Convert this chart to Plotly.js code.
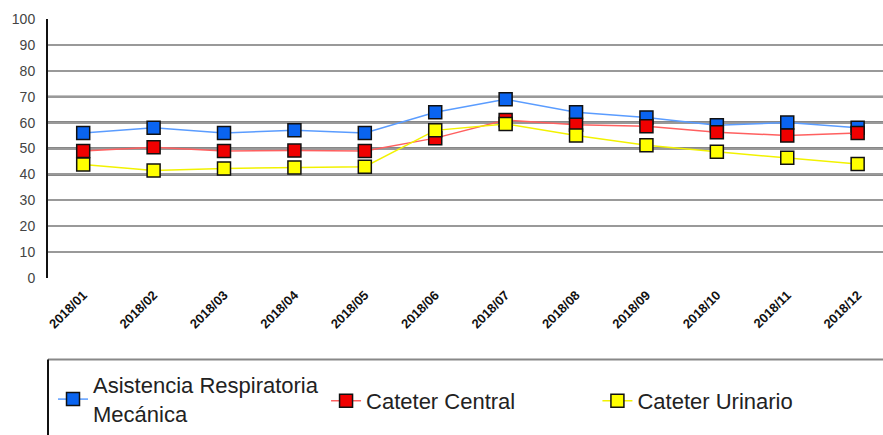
<!DOCTYPE html>
<html>
<head>
<meta charset="utf-8">
<script src="https://cdn.plot.ly/plotly-3.0.1.min.js"></script>
<style>html,body{margin:0;padding:0;background:#fff;}#chart{width:883px;height:435px;}</style>
</head>
<body>
<div id="chart"></div>
<script>
const months = ["2018/01","2018/02","2018/03","2018/04","2018/05","2018/06","2018/07","2018/08","2018/09","2018/10","2018/11","2018/12"];
const respiratoria = [56, 58, 56, 57, 56, 64, 69, 64, 62, 59, 60, 58];
const central = [49, 50.5, 49, 49.2, 49, 54, 61, 59.2, 58.6, 56.3, 55, 56];
const urinario = [43.8, 41.5, 42.3, 42.7, 43, 57, 59.5, 55, 51.3, 48.7, 46.4, 44];
const seriesNames = ["Asistencia Respiratoria<br>Mecánica", "Cateter Central", "Cateter Urinario"];
const yTicks = [0,10,20,30,40,50,60,70,80,90,100];
const blackLines = [40,50,60,70];

function tr(y, name, fill, line, leg) {
  return {
    x: months, y: y, name: name, type: 'scatter', mode: 'lines+markers', legend: leg,
    line: {color: line, width: 1.5},
    marker: {symbol: 'square', size: 13, color: fill, line: {color: '#111', width: 1.5}}
  };
}
const data = [
  tr(respiratoria, seriesNames[0], '#0a64f0', '#5a9cff', 'legend'),
  tr(central, seriesNames[1], '#f00000', '#ff6060', 'legend2'),
  tr(urinario, seriesNames[2], '#ffff00', '#f2f200', 'legend3')
];

const shapes = blackLines.map(v => ({
  type: 'line', xref: 'paper', yref: 'y', x0: 0, x1: 1, y0: v, y1: v,
  line: {color: '#111', width: 2}, layer: 'below'
}));
shapes.push({type:'line', xref:'paper', yref:'paper', x0:0, x1:1.2, y0:-0.315, y1:-0.315, line:{color:'#888', width:2}});
shapes.push({type:'line', xref:'paper', yref:'paper', x0:0, x1:0, y0:-0.315, y1:-0.7, line:{color:'#111', width:2}});

function leg(x) {
  return {
    orientation: 'h', x: x, xanchor: 'left', y: -0.469, yanchor: 'middle',
    font: {size: 22, color: '#222'}, bgcolor: 'rgba(0,0,0,0)', borderwidth: 0
  };
}

const layout = {
  width: 883, height: 435,
  margin: {l: 48, r: 0, t: 19, b: 156},
  paper_bgcolor: '#fff', plot_bgcolor: '#fff',
  font: {family: 'Liberation Sans, Arial, sans-serif', color: '#222'},
  showlegend: true,
  xaxis: {
    type: 'category', range: [-0.5, 11.36], tickangle: -45,
    showgrid: false, zeroline: false, showline: false, ticks: '',
    tickfont: {size: 13, color: '#111', family: 'Liberation Sans, Arial, sans-serif', weight: 'bold'},
    ticklabelstandoff: 6
  },
  yaxis: {
    range: [0, 100], tickvals: yTicks, ticktext: yTicks.map(String),
    showgrid: true, gridcolor: '#999', gridwidth: 2, zeroline: false,
    showline: true, linecolor: '#111', linewidth: 2, ticks: '',
    tickfont: {size: 14, color: '#444'}, ticklabelstandoff: 8
  },
  legend: leg(0.006),
  legend2: leg(0.333),
  legend3: leg(0.658),
  shapes: shapes
};
Plotly.newPlot('chart', data, layout, {displayModeBar: false, staticPlot: true});
</script>
</body>
</html>
